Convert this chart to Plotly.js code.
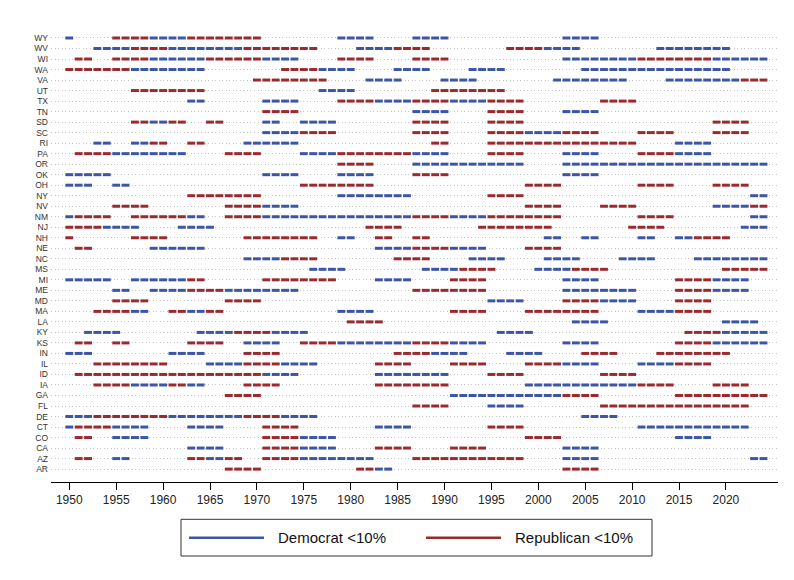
<!DOCTYPE html>
<html>
<head>
<meta charset="utf-8">
<script src="https://cdn.plot.ly/plotly-3.0.1.min.js"></script>
<style>html,body{margin:0;padding:0;background:#fff;}#chart{width:794px;height:580px;}</style>
</head>
<body>
<div id="chart"></div>
<script>
// States, bottom to top
const states = ["AR","AZ","CA","CO","CT","DE","FL","GA","IA","ID","IL","IN","KS","KY","LA","MA","MD","ME","MI","MS","NC","NE","NH","NJ","NM","NV","NY","OH","OK","OR","PA","RI","SC","SD","TN","TX","UT","VA","WA","WI","WV","WY"];

// Years in office with Democratic margin < 10% (inclusive [first, last] runs), aligned with states
const demRuns = [
  [[1983,1984]],                                                        // AR
  [[1955,1956],[1965,1966],[1975,1982],[2003,2006],[2023,2024]],        // AZ
  [[1963,1966],[1975,1978],[2003,2006]],                                // CA
  [[1955,1958],[1975,1978],[2015,2018]],                                // CO
  [[1950,1950],[1955,1958],[1963,1966],[1983,1986],[2011,2022]],        // CT
  [[1950,1952],[1961,1968],[1973,1976],[2005,2008]],                    // DE
  [[1995,1998]],                                                        // FL
  [[1991,2002]],                                                        // GA
  [[1957,1960],[1963,1964],[1999,2010]],                                // IA
  [[1971,1974],[1983,1990]],                                            // ID
  [[1965,1968],[1973,1976],[2003,2006],[2011,2014]],                    // IL
  [[1950,1952],[1961,1964],[1989,1992],[1997,2000]],                    // IN
  [[1969,1972],[1979,1986],[1991,1994],[2003,2006],[2019,2024]],        // KS
  [[1952,1955],[1964,1967],[1972,1975],[1996,1999],[2020,2024]],        // KY
  [[2004,2007],[2020,2023]],                                            // LA
  [[1957,1958],[1963,1964],[1979,1982],[2011,2014]],                    // MA
  [[1995,1998],[2007,2010]],                                            // MD
  [[1955,1956],[1959,1962],[1967,1974],[2003,2010],[2019,2022]],        // ME
  [[1950,1954],[1957,1962],[1983,1986],[2003,2006],[2019,2022]],        // MI
  [[1976,1979],[1988,1991],[2000,2003]],                                // MS
  [[1969,1972],[1993,1996],[2001,2004],[2009,2012],[2017,2024]],        // NC
  [[1959,1964],[1983,1986],[1991,1994]],                                // NE
  [[1979,1980],[2001,2002],[2005,2006],[2011,2012],[2015,2016]],        // NH
  [[1954,1957],[1962,1965],[2022,2024]],                                // NJ
  [[1950,1950],[1963,1964],[1971,1986],[1991,1994],[2023,2024]],        // NM
  [[1971,1974],[2019,2022]],                                            // NV
  [[1979,1986],[2023,2024]],                                            // NY
  [[1950,1952],[1955,1956]],                                            // OH
  [[1950,1954],[1971,1974],[1979,1982],[2003,2006]],                    // OK
  [[1987,1998],[2003,2024]],                                            // OR
  [[1955,1962],[1975,1978],[1987,1990],[2003,2006],[2015,2018]],        // PA
  [[1953,1954],[1957,1958],[1969,1974],[2015,2018]],                    // RI
  [[1971,1974],[1999,2002]],                                            // SC
  [[1959,1960],[1971,1972],[1975,1978]],                                // SD
  [[1987,1990],[2003,2006]],                                            // TN
  [[1963,1964],[1971,1974],[1983,1986],[1991,1994]],                    // TX
  [[1977,1980]],                                                        // UT
  [[1982,1985],[1990,1993],[2002,2009],[2014,2021]],                    // VA
  [[1957,1964],[1977,1980],[1985,1988],[1993,1996],[2005,2020]],        // WA
  [[1959,1964],[1971,1974],[2003,2010],[2019,2024]],                    // WI
  [[1953,1956],[1961,1968],[1981,1984],[2001,2004],[2013,2020]],        // WV
  [[1950,1950],[1959,1962],[1979,1982],[1987,1990],[2003,2006]]         // WY
];

// Years in office with Republican margin < 10%
const repRuns = [
  [[1967,1970],[1981,1982],[2003,2006]],                                // AR
  [[1951,1952],[1963,1964],[1967,1968],[1971,1974],[1987,1998]],        // AZ
  [[1971,1974],[1983,1986],[1991,1994]],                                // CA
  [[1951,1952],[1971,1974],[1999,2002]],                                // CO
  [[1951,1954],[1971,1974],[1995,1998]],                                // CT
  [[1953,1960],[1969,1972]],                                            // DE
  [[1987,1990],[2007,2022]],                                            // FL
  [[1967,1970],[2003,2006],[2015,2024]],                                // GA
  [[1953,1956],[1961,1962],[1969,1972],[1983,1990],[2011,2014],[2019,2022]], // IA
  [[1951,1970],[1995,1998],[2007,2010]],                                // ID
  [[1953,1960],[1969,1972],[1983,1986],[1991,1994],[1999,2002],[2015,2018]], // IL
  [[1969,1972],[1985,1988],[2005,2008],[2013,2020]],                    // IN
  [[1951,1952],[1955,1956],[1963,1966],[1975,1978],[1987,1990],[2015,2018]], // KS
  [[1968,1971],[2016,2019]],                                            // KY
  [[1980,1983]],                                                        // LA
  [[1953,1956],[1961,1962],[1965,1966],[1991,1994],[1999,2006],[2015,2018]], // MA
  [[1955,1958],[1967,1970],[2003,2006],[2015,2018]],                    // MD
  [[1963,1966],[1987,1994],[2015,2018]],                                // ME
  [[1963,1964],[1971,1978],[1991,1994],[2015,2018]],                    // MI
  [[1992,1995],[2004,2007],[2020,2024]],                                // MS
  [[1973,1976],[1985,1988]],                                            // NC
  [[1951,1952],[1987,1990],[1999,2002]],                                // NE
  [[1950,1950],[1957,1960],[1969,1976],[1983,1984],[1987,1988],[2017,2020]], // NH
  [[1950,1953],[1982,1985],[1994,2001],[2010,2013]],                    // NJ
  [[1951,1954],[1957,1962],[1967,1970],[1987,1990],[1995,2002],[2011,2014]], // NM
  [[1955,1958],[1967,1970],[1999,2002],[2007,2010],[2023,2024]],        // NV
  [[1963,1970],[1995,1998]],                                            // NY
  [[1975,1982],[1999,2002],[2011,2014],[2019,2022]],                    // OH
  [[1987,1990]],                                                        // OK
  [[1979,1982]],                                                        // OR
  [[1951,1954],[1967,1970],[1979,1986],[1995,1998],[2011,2014]],        // PA
  [[1959,1960],[1963,1964],[1989,1990],[1995,2010]],                    // RI
  [[1975,1978],[1987,1990],[1995,1998],[2003,2006],[2011,2014],[2019,2022]], // SC
  [[1957,1958],[1961,1962],[1965,1966],[1987,1990],[1995,1998],[2019,2022]], // SD
  [[1971,1974],[1995,1998]],                                            // TN
  [[1979,1982],[1987,1990],[1995,1998],[2007,2010]],                    // TX
  [[1957,1964],[1989,1996]],                                            // UT
  [[1970,1977],[2022,2024]],                                            // VA
  [[1950,1956],[1973,1976]],                                            // WA
  [[1951,1952],[1955,1958],[1965,1970],[1979,1982],[1987,1990],[2011,2018]], // WI
  [[1957,1960],[1969,1976],[1985,1988],[1997,2000]],                    // WV
  [[1955,1958],[1963,1970]]                                             // WY
];

const xTicks = [1950,1955,1960,1965,1970,1975,1980,1985,1990,1995,2000,2005,2010,2015,2020];
const seriesNames = ["Democrat <10%", "Republican <10%"];
const seriesColors = ["#3c56a7", "#9b2a2e"];

// one dash per year in office, centred on the year
const HALF = 0.42;
function buildSegments(runsByState) {
  const x = [], y = [];
  runsByState.forEach((runs, i) => {
    runs.forEach(([a, b]) => {
      for (let yr = a; yr <= b; yr++) {
        x.push(yr - HALF, yr + HALF, null);
        y.push(states[i], states[i], null);
      }
    });
  });
  return {x, y};
}

const traces = [demRuns, repRuns].map((runs, k) => {
  const s = buildSegments(runs);
  return {
    type: 'scatter', mode: 'lines', x: s.x, y: s.y,
    name: seriesNames[k], connectgaps: false, showlegend: false,
    line: {color: seriesColors[k], width: 3},
    hoverinfo: 'skip'
  };
});

const font = '"Liberation Sans", Arial, Helvetica, sans-serif';
const L = 51, R = 778, T = 28, B = 482;
const px = x => (x - L) / (R - L);
const py = y => (B - y) / (B - T);

// legend drawn as a framed key below the plot
const legY = 537.7;
const legendKeys = [
  {x0: 189, x1: 264, tx: 276},
  {x0: 426, x1: 501, tx: 513}
];
const shapes = [{
  type: 'rect', xref: 'paper', yref: 'paper',
  x0: px(181), x1: px(652), y0: py(519.3), y1: py(556),
  line: {color: '#333', width: 1}, fillcolor: 'rgba(0,0,0,0)'
}];
const annotations = [];
legendKeys.forEach((k, i) => {
  shapes.push({
    type: 'line', xref: 'paper', yref: 'paper',
    x0: px(k.x0), x1: px(k.x1), y0: py(legY), y1: py(legY),
    line: {color: seriesColors[i], width: 2.5}
  });
  annotations.push({
    xref: 'paper', yref: 'paper', x: px(k.tx), y: py(legY),
    xanchor: 'left', yanchor: 'middle', showarrow: false,
    text: seriesNames[i],
    font: {size: 15, color: '#111', family: font}
  });
});

const layout = {
  width: 794, height: 580,
  margin: {l: L, r: 794 - R, t: T, b: 580 - B},
  paper_bgcolor: '#fff', plot_bgcolor: '#fff',
  font: {family: font, color: '#222'},
  showlegend: false,
  xaxis: {
    range: [1948.05, 2025.55],
    tickvals: xTicks, ticktext: xTicks.map(String),
    ticks: 'outside', ticklen: 7, tickcolor: '#000', tickwidth: 1,
    showline: true, linecolor: '#000', linewidth: 1,
    showgrid: false, zeroline: false,
    tickfont: {size: 12, color: '#222', family: font}
  },
  yaxis: {
    type: 'category', categoryorder: 'array', categoryarray: states,
    range: [-1.227, 41.95],
    tickvals: states, ticktext: states,
    ticks: '', showline: false, zeroline: false,
    showgrid: true, gridcolor: '#c4c4c4', gridwidth: 1, griddash: '1px,2.5px',
    tickfont: {size: 8.5, color: '#333', family: font},
    ticklabelstandoff: 2
  },
  shapes: shapes,
  annotations: annotations
};

Plotly.newPlot('chart', traces, layout, {displayModeBar: false, staticPlot: true});
</script>
</body>
</html>
